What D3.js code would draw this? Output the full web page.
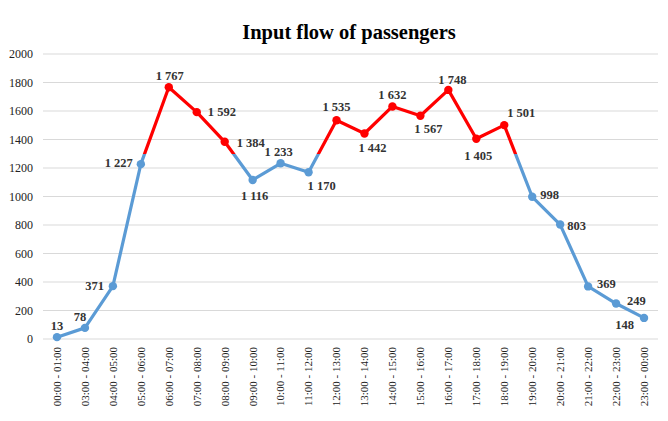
<!DOCTYPE html>
<html><head><meta charset="utf-8">
<script src="https://cdn.jsdelivr.net/npm/d3@7"></script>
<style>body{margin:0;background:#fff}svg{display:block}</style>
</head><body>
<script>
const categories = ["00:00 - 01:00","03:00 - 04:00","04:00 - 05:00","05:00 - 06:00","06:00 - 07:00","07:00 - 08:00","08:00 - 09:00","09:00 - 10:00","10:00 - 11:00","11:00 - 12:00","12:00 - 13:00","13:00 - 14:00","14:00 - 15:00","15:00 - 16:00","16:00 - 17:00","17:00 - 18:00","18:00 - 19:00","19:00 - 20:00","20:00 - 21:00","21:00 - 22:00","22:00 - 23:00","23:00 - 00:00"];
const passengers = [13,78,371,1227,1767,1592,1384,1116,1233,1170,1535,1442,1632,1567,1748,1405,1501,998,803,369,249,148];
const yTicks = [0,200,400,600,800,1000,1200,1400,1600,1800,2000];
const threshold = 1300;
const title = "Input flow of passengers";
// label placement per point: [dx, dy, anchor]
const labelPlacement = [[0,-7,"middle"],[-5,-7,"middle"],[-9,4,"end"],[-8,3,"end"],[1,-7,"middle"],[11,4,"start"],[12,5,"start"],[2,20,"middle"],[-2,-7,"middle"],[13,18,"middle"],[0,-9,"middle"],[8,18,"middle"],[0,-7,"middle"],[8,17,"middle"],[4,-6,"middle"],[2,21,"middle"],[17,-8,"middle"],[8,2,"start"],[7,5,"start"],[9,2,"start"],[11,1,"start"],[-10,11,"end"]];

const W = 668, H = 421;
const svg = d3.select("body").append("svg").attr("width", W).attr("height", H);
const serif = "'Liberation Serif','Times New Roman',serif";

const x = d3.scaleBand().domain(categories).range([43, 658]);
const cx = c => x(c) + x.bandwidth()/2;
const y = d3.scaleLinear().domain([0, 2000]).range([339, 54]);

svg.append("text").attr("x", 349).attr("y", 39).attr("text-anchor","middle")
  .attr("font-family", serif).attr("font-weight","bold").attr("font-size", 20.5).attr("fill","#000").text(title);

// grid
svg.append("g").selectAll("line").data(yTicks).join("line")
  .attr("x1", 43).attr("x2", 658).attr("y1", d=>y(d)).attr("y2", d=>y(d))
  .attr("stroke", "#d9d9d9").attr("stroke-width", 1);

// y axis labels
const yAxis = d3.axisLeft(y).tickValues(yTicks).tickSize(0).tickPadding(0).tickFormat(d3.format("d"));
const ya = svg.append("g").attr("transform","translate(33,0)").call(yAxis);
ya.select(".domain").remove();
ya.attr("font-family", serif);
ya.selectAll("text").attr("font-family", serif).attr("font-size", 12).attr("fill","#222");

// x axis labels
const xAxis = d3.axisBottom(x).tickSize(0).tickPadding(0);
const xa = svg.append("g").attr("transform","translate(0,339)").call(xAxis);
xa.select(".domain").remove();
xa.attr("font-family", serif);
xa.selectAll("text").attr("font-family", serif).attr("font-size", 11).attr("fill","#222")
  .attr("text-anchor","end").attr("transform","rotate(-90)").attr("x", -8).attr("y", 0).attr("dy","0.35em");

// gradient
const defs = svg.append("defs");
const grad = defs.append("linearGradient").attr("id","lg").attr("gradientUnits","userSpaceOnUse")
  .attr("x1",0).attr("x2",0).attr("y1", y(0)).attr("y2", y(2000));
const off = threshold/2000;
grad.append("stop").attr("offset", off).attr("stop-color","#5b9bd5");
grad.append("stop").attr("offset", off).attr("stop-color","#ff0000");

const line = d3.line().x((d,i)=>cx(categories[i])).y(d=>y(d));
svg.append("path").datum(passengers).attr("d", line).attr("fill","none")
  .attr("stroke","url(#lg)").attr("stroke-width",3.2).attr("stroke-linejoin","round");

svg.append("g").selectAll("circle").data(passengers).join("circle")
  .attr("cx",(d,i)=>cx(categories[i])).attr("cy",d=>y(d)).attr("r",4.2)
  .attr("fill", d=> d>=threshold ? "#ff0000" : "#5b9bd5");

const fmt = v => { const s = String(v); return s.length>3 ? s.slice(0,s.length-3)+" "+s.slice(-3) : s; };
svg.append("g").selectAll("text").data(passengers).join("text")
  .attr("x",(d,i)=>cx(categories[i]) + labelPlacement[i][0])
  .attr("y",(d,i)=>y(d) + labelPlacement[i][1])
  .attr("text-anchor",(d,i)=>labelPlacement[i][2])
  .attr("font-family", serif).attr("font-weight","bold").attr("font-size", 12.5).attr("fill","#333")
  .text(fmt);
</script>
</body></html>
